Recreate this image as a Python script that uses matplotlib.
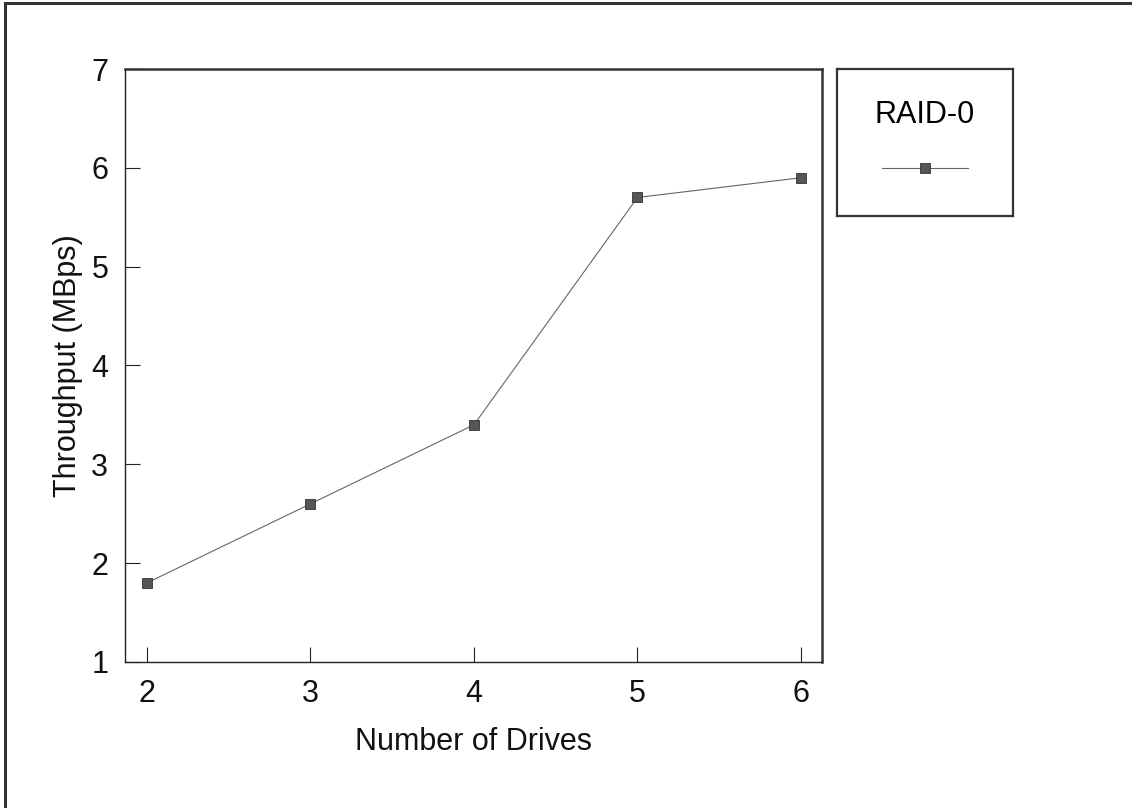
import matplotlib
matplotlib.use('Agg')
import matplotlib.pyplot as plt
from matplotlib.lines import Line2D

# Data
drives = [2, 3, 4, 5, 6]
throughput = [1.8, 2.6, 3.4, 5.7, 5.9]
series_name = 'RAID-0'
y_ticks = [1, 2, 3, 4, 5, 6, 7]

plt.rcParams['font.family'] = ['Liberation Sans', 'DejaVu Sans']

fig = plt.figure(figsize=(11.32, 8.08), dpi=100)

# outer frame (left and top edge only, as in the scan)
fig.add_artist(Line2D([0.004, 0.004], [0, 0.996], transform=fig.transFigure, color='#333333', lw=2.2))
fig.add_artist(Line2D([0.004, 1.0], [0.996, 0.996], transform=fig.transFigure, color='#333333', lw=2.2))

# main axes
ax = fig.add_axes([0.1104, 0.1807, 0.6157, 0.7339])
line, = ax.plot(drives, throughput, color='#666666', lw=0.8,
                marker='s', markersize=6.5, markerfacecolor='#555555', markeredgecolor='#333333',
                markeredgewidth=0.6)

ax.set_xlim(1.866, 6.128)
ax.set_ylim(1, 7)
ax.set_xticks(drives)
ax.set_yticks(y_ticks)
ax.tick_params(axis='both', direction='in', length=11, width=0.8, color='#222222',
               labelsize=22, labelcolor='#111111')
ax.tick_params(axis='x', pad=12)
ax.tick_params(axis='y', pad=12)
ax.tick_params(top=False, right=False)

for side in ['left', 'bottom']:
    ax.spines[side].set_linewidth(1.0)
    ax.spines[side].set_color('#222222')
for side in ['top', 'right']:
    ax.spines[side].set_linewidth(1.8)
    ax.spines[side].set_color('#333333')

ax.set_xlabel('Number of Drives', fontsize=22, color='#111111', labelpad=13)
ax.set_ylabel('Throughput (MBps)', fontsize=22, color='#111111', labelpad=6)

# legend box
leg_ax = fig.add_axes([837 / 1132, 1 - 216 / 808, 176 / 1132, 147 / 808])
leg_ax.set_xticks([])
leg_ax.set_yticks([])
for side in leg_ax.spines.values():
    side.set_linewidth(1.6)
    side.set_color('#333333')
leg = leg_ax.legend(handles=[line], labels=[''], title=series_name, loc='center',
                    frameon=False, handlelength=2.8, handletextpad=0, title_fontsize=22,
                    fontsize=22, labelspacing=0.85, borderpad=0)
leg._legend_box.align = 'center'

fig.savefig('out.png', dpi=100)
